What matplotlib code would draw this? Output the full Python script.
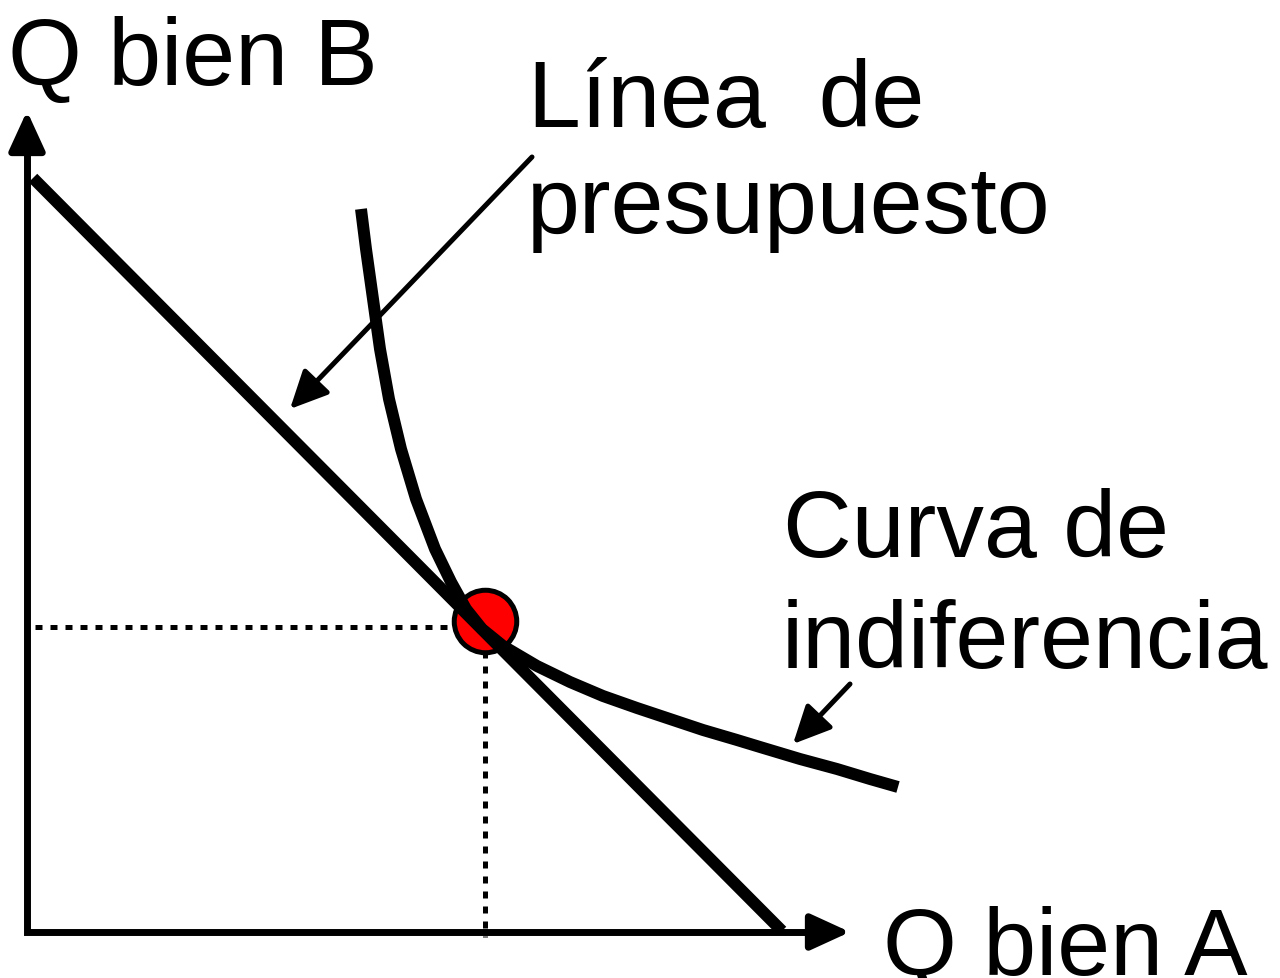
import matplotlib
matplotlib.use("Agg")
import matplotlib.pyplot as plt

plt.rcParams["font.family"] = ["Liberation Sans", "DejaVu Sans"]

# diagram units: origin at the corner of the axes, 1 unit ~ 1 px
budget_x = [6, 755]
budget_y = [754, 1]

curve_x = [334, 339, 346, 353, 362, 374, 389, 408, 424, 439, 455,
           476, 510, 543, 576, 610, 643, 676, 710, 733, 773, 810, 843, 871]
curve_y = [723, 683, 633, 583, 533, 483, 433, 383, 350, 323, 303,
           286, 266, 250, 236, 224, 213, 202, 192, 185, 173, 163, 153, 145]

opt_x, opt_y = 458, 311          # optimum (tangency)
guide_y = 305                    # horizontal dotted guide
x_axis_end, y_axis_end = 823, 821

labels = {
    "Q bien B": (-19, 848),
    "Q bien A": (856, -42),
    "Línea  de": (501, 806),
    "presupuesto": (500, 700),
    "Curva de": (756, 376),
    "indiferencia": (755, 265),
}
budget_arrow = ((505, 775), (263, 523))     # (from, to)
curve_arrow = ((823, 248), (766, 188))

fig = plt.figure(figsize=(12.8, 9.79), dpi=100)
ax = fig.add_axes([0, 0, 1, 1])
ax.set_xlim(-27, 1253)
ax.set_ylim(-46, 933)
ax.axis("off")

# axes: one L-shaped stroke plus two arrow heads
ax.plot([x_axis_end - 20, 0, 0], [0, 0, y_axis_end - 20], color="black", lw=5,
        solid_joinstyle="miter", solid_capstyle="butt")
axis_style = dict(arrowstyle="-|>,head_length=24,head_width=11", lw=5, color="black",
                  shrinkA=0, shrinkB=0, mutation_scale=1)
ax.annotate("", xy=(x_axis_end, 0), xytext=(x_axis_end - 40, 0), arrowprops=axis_style)
ax.annotate("", xy=(0, y_axis_end), xytext=(0, y_axis_end - 40), arrowprops=axis_style)

# dotted guides
dots = dict(color="black", lw=3.6, linestyle=(0, (1.4, 1.6)), dash_capstyle="butt")
ax.plot([8, opt_x - 25], [guide_y, guide_y], **dots)
ax.plot([opt_x, opt_x], [opt_y - 30, -5], **dots)

# optimum point (under the lines)
ax.plot([opt_x], [opt_y], "o", ms=45, mfc="red", mec="black", mew=3.6, zorder=2)

# budget line and indifference curve
ax.plot(budget_x, budget_y, color="black", lw=8.6, solid_capstyle="butt", zorder=3)
ax.plot(curve_x, curve_y, color="black", lw=8.6, solid_capstyle="butt",
        solid_joinstyle="round", zorder=3)

# pointer arrows
ptr_style = dict(arrowstyle="-|>,head_length=23,head_width=11", lw=3.6, color="black",
                 shrinkA=0, shrinkB=0, mutation_scale=1)
for (x0, y0), (x1, y1) in (budget_arrow, curve_arrow):
    ax.annotate("", xy=(x1, y1), xytext=(x0, y0), arrowprops=ptr_style, zorder=4)

for text, (x, y) in labels.items():
    ax.text(x, y, text, fontsize=68.5, ha="left", va="baseline", color="black")

fig.savefig("out.png", dpi=100)
